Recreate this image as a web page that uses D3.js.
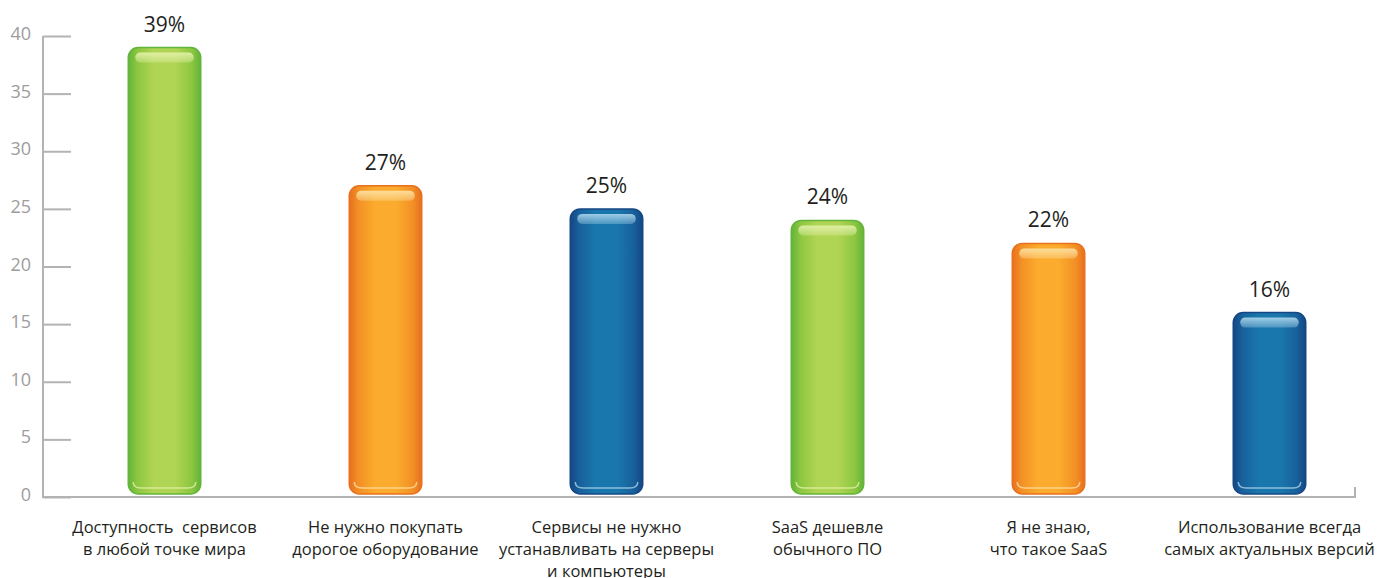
<!DOCTYPE html>
<html><head><meta charset="utf-8">
<script src="https://cdn.jsdelivr.net/npm/d3@7"></script>
<style>body{margin:0;background:#fff}svg{display:block}text{white-space:pre}</style>
</head><body>
<script>
const categories = [
  ["Доступность  сервисов","в любой точке мира"],
  ["Не нужно покупать","дорогое оборудование"],
  ["Сервисы не нужно","устанавливать на серверы","и компьютеры"],
  ["SaaS дешевле","обычного ПО"],
  ["Я не знаю,","что такое SaaS"],
  ["Использование всегда","самых актуальных версий"]
];
const values = [39, 27, 25, 24, 22, 16];
const valueLabels = ["39%","27%","25%","24%","22%","16%"];
const colorKeys = ["green","orange","blue","green","orange","blue"];
const yTicks = [0,5,10,15,20,25,30,35,40];

const palette = {
  green: {edge:"#62b43a", mid:"#8cc640", main:"#b0d453", hi:"#e2f0a8"},
  orange:{edge:"#e8701f", mid:"#f28f25", main:"#fbab2d", hi:"#fde0a0"},
  blue:  {edge:"#164784", mid:"#17609b", main:"#1a77ad", hi:"#a6d2e8"}
};

const W = 1377, H = 578;
const svg = d3.select("body").append("svg").attr("width", W).attr("height", H);
const font = "'Open Sans', 'Noto Sans', sans-serif";

const y = d3.scaleLinear().domain([0, 40]).range([497, 36]);
const x = d3.scaleBand().domain(d3.range(values.length)).range([54, 1380]).paddingInner(0.672).paddingOuter(0.336);

const defs = svg.append("defs");
Object.entries(palette).forEach(([k, c]) => {
  const g = defs.append("linearGradient").attr("id", "g-" + k).attr("x1", "0").attr("x2", "1").attr("y1", "0").attr("y2", "0");
  [[0,c.edge],[0.12,c.mid],[0.35,c.main],[0.65,c.main],[0.88,c.mid],[1,c.edge]].forEach(([o,col]) =>
    g.append("stop").attr("offset", o).attr("stop-color", col));
  const h = defs.append("linearGradient").attr("id", "h-" + k).attr("x1", "0").attr("x2", "0").attr("y1", "0").attr("y2", "1");
  h.append("stop").attr("offset", 0).attr("stop-color", c.hi).attr("stop-opacity", 0.95);
  h.append("stop").attr("offset", 1).attr("stop-color", c.hi).attr("stop-opacity", 0.35);
});

// axes
const axisColor = "#b3b3b3";
const gy = svg.append("g").attr("transform", "translate(43,0)")
  .call(d3.axisRight(y).tickValues(yTicks).tickSize(28).tickFormat(""));
gy.select(".domain").attr("stroke", axisColor).attr("stroke-width", 2).attr("d", `M0,${y(40)}V${y(0)}`);
gy.selectAll(".tick line").attr("stroke", axisColor).attr("stroke-width", 2);
svg.append("g").selectAll("text").data(yTicks).join("text")
  .attr("x", 31).attr("y", d => y(d) + 4).attr("text-anchor", "end")
  .attr("font-family", font).attr("font-size", 18).attr("fill", "#9d9d9d").text(d => d);

svg.append("path").attr("fill", "none").attr("stroke", axisColor).attr("stroke-width", 2)
  .attr("d", `M42,${y(0)}H1355V${y(0) - 10}`);

// bars
const bars = svg.append("g").selectAll("g").data(values).join("g");
bars.append("rect")
  .attr("x", (d,i) => x(i)).attr("width", x.bandwidth())
  .attr("y", d => y(d)).attr("height", d => y(0) - 3 - y(d))
  .attr("rx", 10).attr("ry", 10)
  .attr("fill", (d,i) => `url(#g-${colorKeys[i]})`)
  .attr("stroke", (d,i) => palette[colorKeys[i]].edge).attr("stroke-width", 1.5);
bars.append("rect")
  .attr("x", (d,i) => x(i) + 7).attr("width", x.bandwidth() - 14)
  .attr("y", d => y(d) + 5).attr("height", 10)
  .attr("rx", 5).attr("ry", 5)
  .attr("fill", (d,i) => `url(#h-${colorKeys[i]})`);
bars.append("path")
  .attr("fill", "none").attr("stroke", (d,i) => palette[colorKeys[i]].hi).attr("stroke-width", 1.5).attr("opacity", 0.8)
  .attr("d", (d,i) => {
    const x0 = x(i) + 5, x1 = x(i) + x.bandwidth() - 5, yb = y(0) - 9;
    return `M${x0},${yb - 6} Q${x0},${yb} ${x0 + 8},${yb} H${x1 - 8} Q${x1},${yb} ${x1},${yb - 6}`;
  });

// value labels
svg.append("g").selectAll("text").data(values).join("text")
  .attr("x", (d,i) => x(i) + x.bandwidth() / 2).attr("y", d => y(d) - 16)
  .attr("text-anchor", "middle").attr("font-family", font).attr("font-size", 21).attr("fill", "#231f20")
  .text((d,i) => valueLabels[i]);

// category labels
const cl = svg.append("g").selectAll("text").data(categories).join("text")
  .attr("x", (d,i) => x(i) + x.bandwidth() / 2).attr("y", 533)
  .attr("text-anchor", "middle").attr("font-family", font).attr("font-size", 16.5).attr("fill", "#231f20");
cl.selectAll("tspan").data(d => d).join("tspan")
  .attr("x", function(){ return this.parentNode.getAttribute("x"); })
  .attr("dy", (d,j) => j === 0 ? 0 : 22).text(d => d);
</script>
</body></html>
